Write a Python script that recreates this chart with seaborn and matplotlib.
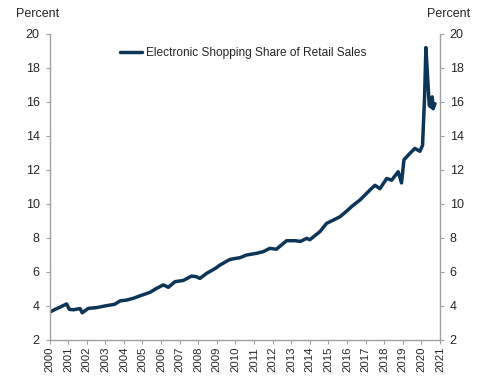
import matplotlib
matplotlib.use("Agg")
import matplotlib.pyplot as plt
import numpy as np
import pandas as pd
import seaborn as sns

# values (year fraction, percent)
years = [2000.0, 2000.3, 2000.6, 2000.92, 2001.07, 2001.3, 2001.64, 2001.76, 2002.09, 2002.5,
         2003.07, 2003.5, 2003.8, 2004.15, 2004.5, 2004.87, 2005.4, 2005.76, 2006.12, 2006.39,
         2006.75, 2007.19, 2007.64, 2007.9, 2008.09, 2008.45, 2008.9, 2009.17, 2009.7, 2010.24,
         2010.6, 2011.14, 2011.5, 2011.85, 2012.2, 2012.75, 2013.2, 2013.5, 2013.83, 2014.0,
         2014.54, 2014.9, 2015.35, 2015.62, 2016.0, 2016.3, 2016.7, 2017.23, 2017.5, 2017.77,
         2018.13, 2018.4, 2018.75, 2018.93, 2019.06, 2019.38, 2019.65, 2019.92, 2020.06, 2020.17,
         2020.24, 2020.31, 2020.42, 2020.51, 2020.58, 2020.63, 2020.73]
share = [3.63, 3.8, 3.95, 4.12, 3.8, 3.78, 3.85, 3.6, 3.86, 3.9,
         4.02, 4.1, 4.3, 4.35, 4.45, 4.6, 4.8, 5.04, 5.24, 5.1,
         5.43, 5.5, 5.76, 5.72, 5.62, 5.92, 6.2, 6.41, 6.74, 6.84,
         7.0, 7.1, 7.2, 7.39, 7.34, 7.84, 7.84, 7.8, 7.98, 7.9,
         8.37, 8.86, 9.1, 9.25, 9.6, 9.9, 10.24, 10.82, 11.1, 10.9,
         11.5, 11.4, 11.9, 11.24, 12.6, 12.98, 13.27, 13.1, 13.45, 16.3,
         19.2, 17.9, 15.8, 15.7, 16.3, 15.6, 15.9]
tick_years = list(range(2000, 2022))
series_name = "Electronic Shopping Share of Retail Sales"

df = pd.DataFrame({"year": years, "share": share})

sns.set_style("white")
plt.rcParams["font.family"] = ["Liberation Sans", "DejaVu Sans"]

fig = plt.figure(figsize=(4.82, 3.84), dpi=100)
ax = fig.add_axes([0.1027, 0.1146, 0.8102, 0.7969])

sns.lineplot(data=df, x="year", y="share", color="#0d3558", linewidth=2.5, label=series_name, ax=ax)

ax.set_xlim(2000, 2021)
ax.set_ylim(2, 20)
ax.set_xticks(tick_years)
ax.set_xticklabels([str(y) for y in tick_years], rotation=90, fontsize=8.2)
ax.set_yticks(range(2, 21, 2))
ax.tick_params(axis="y", which="both", left=True, right=True, labelleft=True, labelright=True,
               labelsize=9, length=3, width=0.8, color="#a0a0a0", pad=4)
ax.tick_params(axis="x", bottom=True, length=3, width=0.8, color="#a0a0a0", pad=2)
ax.set_xlabel("")
ax.set_ylabel("")

for side in ["left", "right", "bottom"]:
    ax.spines[side].set_color("#a0a0a0")
    ax.spines[side].set_linewidth(1.0)
ax.spines["top"].set_visible(False)

fig.text(38 / 482, 1 - 14 / 384, "Percent", ha="center", va="center", fontsize=9)
fig.text(449 / 482, 1 - 14 / 384, "Percent", ha="center", va="center", fontsize=9)

ax.legend(loc="center left", bbox_to_anchor=(115 / 482, 1 - 53 / 384), bbox_transform=fig.transFigure,
          frameon=False, fontsize=8.6, handlelength=1.9, handletextpad=0.3, borderaxespad=0)

fig.savefig("out.png", dpi=100)
